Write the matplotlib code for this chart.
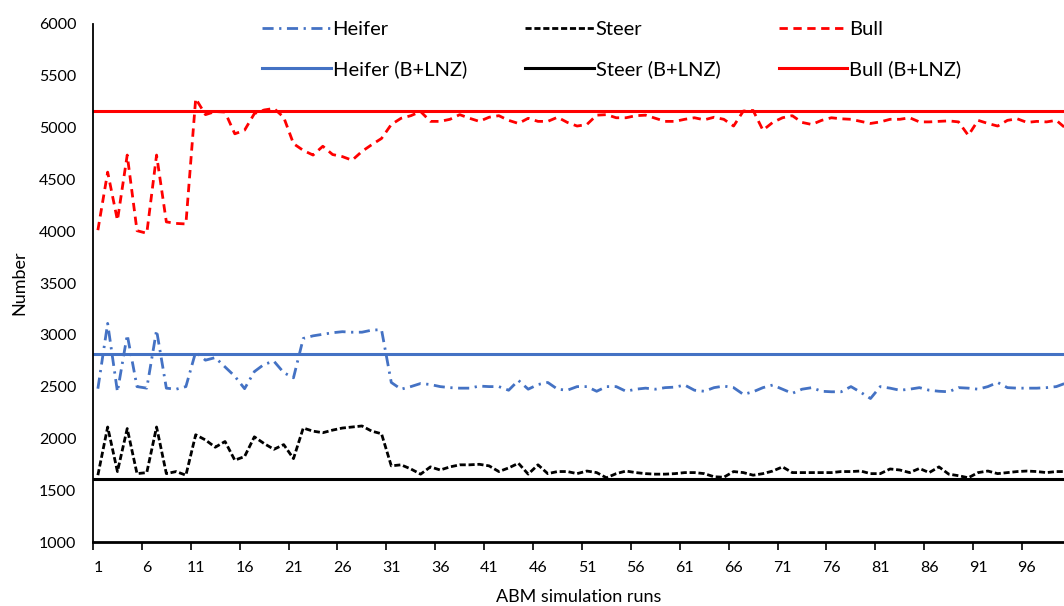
import matplotlib
matplotlib.use("Agg")
import matplotlib.pyplot as plt
import numpy as np

plt.rcParams["font.family"] = ["Lato", "DejaVu Sans"]

runs = np.arange(1, 101)

heifer = [
    2480, 3110, 2450, 3000, 2500, 2485, 3045, 2485, 2475, 2500,
    2835, 2755, 2780, 2690, 2600, 2480, 2645, 2715, 2745, 2635,
    2585, 2965, 2990, 3005, 3020, 3030, 3025, 3025, 3045, 3050,
    2540, 2475, 2500, 2530, 2520, 2500, 2490, 2485, 2485, 2505,
    2500, 2500, 2465, 2560, 2475, 2520, 2540, 2475, 2465, 2500,
    2500, 2455, 2500, 2500, 2455, 2475, 2485, 2475, 2490, 2495,
    2515, 2465, 2455, 2490, 2505, 2490, 2425, 2450, 2490, 2515,
    2475, 2435, 2475, 2490, 2455, 2450, 2450, 2500, 2445, 2385,
    2500, 2485, 2465, 2475, 2490, 2465, 2455, 2450, 2490, 2485,
    2475, 2500, 2540, 2490, 2485, 2485, 2485, 2490, 2500, 2535,
]
steer = [
    1645, 2110, 1680, 2095, 1660, 1670, 2110, 1660, 1680, 1645,
    2035, 1985, 1915, 1970, 1790, 1825, 2015, 1950, 1895, 1940,
    1805, 2100, 2070, 2055, 2080, 2100, 2110, 2120, 2070, 2045,
    1735, 1745, 1705, 1655, 1725, 1695, 1725, 1745, 1745, 1750,
    1735, 1680, 1715, 1760, 1655, 1745, 1660, 1680, 1680, 1660,
    1685, 1670, 1620, 1660, 1685, 1670, 1660, 1655, 1655, 1660,
    1670, 1670, 1660, 1630, 1625, 1680, 1670, 1645, 1660, 1685,
    1725, 1670, 1670, 1670, 1670, 1670, 1680, 1680, 1685, 1660,
    1660, 1705, 1695, 1670, 1710, 1670, 1725, 1655, 1640, 1620,
    1670, 1685, 1660, 1670, 1680, 1685, 1680, 1670, 1680, 1680,
]
bull = [
    4010, 4570, 4105, 4735, 4005, 3980, 4735, 4090, 4075, 4070,
    5280, 5125, 5155, 5150, 4940, 4975, 5135, 5170, 5185, 5100,
    4845, 4780, 4735, 4820, 4740, 4720, 4685, 4770, 4835, 4895,
    5030, 5090, 5115, 5155, 5060, 5060, 5080, 5125, 5090, 5060,
    5100, 5115, 5070, 5040, 5090, 5060, 5060, 5100, 5050, 5015,
    5030, 5120, 5125, 5095, 5095, 5115, 5120, 5090, 5060, 5060,
    5080, 5095, 5075, 5100, 5080, 5015, 5160, 5165, 4975, 5050,
    5095, 5115, 5050, 5030, 5070, 5095, 5085, 5080, 5060, 5040,
    5055, 5080, 5080, 5095, 5055, 5055, 5060, 5065, 5055, 4925,
    5070, 5040, 5015, 5070, 5085, 5050, 5060, 5055, 5070, 4990,
]

# B+LNZ reference levels
heifer_ref = 2810
steer_ref = 1610
bull_ref = 5160

BLUE = "#4472C4"
RED = "#FF0000"


def main() -> None:
    fig = plt.figure(figsize=(10.64, 6.06), dpi=100)
    ax = fig.add_axes([0.0874, 0.1056, 1 - 0.0874, 0.8548])

    ax.plot(runs, heifer, color=BLUE, lw=2, dashes=(4, 2, 0.8, 2), label="Heifer")
    ax.axhline(heifer_ref, color=BLUE, lw=2.2, label="Heifer (B+LNZ)")
    ax.plot(runs, steer, color="black", lw=2, dashes=(2.2, 1), label="Steer")
    ax.axhline(steer_ref, color="black", lw=2.2, label="Steer (B+LNZ)")
    ax.plot(runs, bull, color=RED, lw=2, dashes=(3, 2), label="Bull")
    ax.axhline(bull_ref, color=RED, lw=2.2, label="Bull (B+LNZ)")

    ax.set_ylim(1000, 6000)
    ax.set_xlim(0.5, 0.5 + (1064 - 93) / 9.78)
    ax.set_yticks(np.arange(1000, 6001, 500))
    ax.set_xticks(np.arange(1, 100, 5))
    ax.set_xticks(np.arange(0.5, 100, 5), minor=True)
    ax.tick_params(axis="x", which="major", length=0, pad=14, labelsize=11.5)
    ax.tick_params(axis="x", which="minor", length=6, width=1.2, direction="out")
    ax.tick_params(axis="y", length=0, pad=12, labelsize=11.5)

    for side in ("top", "right"):
        ax.spines[side].set_visible(False)
    ax.spines["left"].set_linewidth(1.3)
    ax.spines["bottom"].set_linewidth(2)

    ax.set_xlabel("ABM simulation runs", fontsize=13, labelpad=10)
    ax.set_ylabel("Number", fontsize=13, labelpad=8)

    ax.legend(loc="upper left", bbox_to_anchor=(0.2293, 0.995), bbox_transform=fig.transFigure,
              ncol=3, frameon=False, fontsize=14.5, handlelength=3.4,
              columnspacing=2.9, labelspacing=1.1, handletextpad=0.1)

    fig.savefig("out.png", dpi=100)
    plt.close(fig)


if __name__ == "__main__":
    main()
